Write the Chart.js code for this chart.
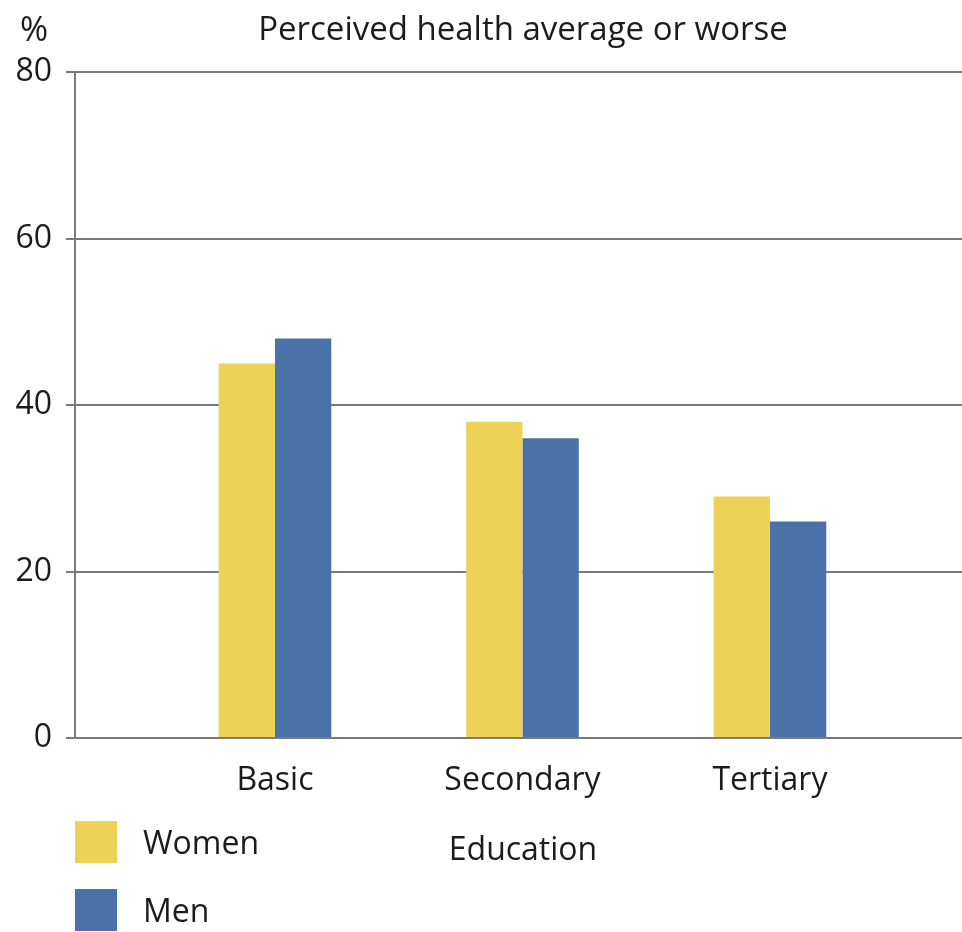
<!DOCTYPE html>
<html>
<head>
<meta charset="utf-8">
<script src="https://cdn.jsdelivr.net/npm/chart.js@4/dist/chart.umd.min.js"></script>
<style>
    html, body { margin: 0; padding: 0; background: #fff; }
    #wrap { position: relative; width: 962px; height: 932px; font-family: 'Open Sans', sans-serif; color: #1c1c1c; }
    #wrap canvas { position: absolute; left: 0; top: 0; }
    .lbl { position: absolute; font-size: 32px; line-height: 32px; white-space: nowrap; }
    .swatch { position: absolute; width: 42px; height: 42px; }
</style>
</head>
<body>
<div id="wrap">
    <canvas id="healthChart" width="962" height="932"></canvas>
    <div class="lbl" id="unit" style="left:20px; top:11px; font-size:34px; line-height:34px;">%</div>
    <div class="lbl" id="title" style="left:523px; top:11px; font-size:33px; line-height:33px; transform:translateX(-50%);">Perceived health average or worse</div>
    <div class="lbl" id="axisTitle" style="left:523px; top:832px; transform:translateX(-50%);">Education</div>
    <div id="legend"></div>
</div>
<script>
const categories = ['Basic', 'Secondary', 'Tertiary'];
const women = [45, 38, 29];
const men = [48, 36, 26];
const yTicks = [0, 20, 40, 60, 80];

const seriesNames = ['Women', 'Men'];
const seriesColors = ['#EDD257', '#4A72A8'];

function toPoints(values) {
    return values.map((v, i) => ({ x: i, y: v }));
}

const data = {
    datasets: [
        { label: seriesNames[0], data: toPoints(women), backgroundColor: seriesColors[0] },
        { label: seriesNames[1], data: toPoints(men), backgroundColor: seriesColors[1] },
    ]
};

const config = {
    type: 'bar',
    data: data,
    options: {
        responsive: false,
        animation: false,
        layout: { padding: { top: 72, right: 0, left: 0, bottom: 0 } },
        categoryPercentage: 0.455,
        barPercentage: 1,
        plugins: {
            legend: { display: false },
            tooltip: { enabled: false },
        },
        scales: {
            x: {
                type: 'linear',
                offset: false,
                min: -0.808,
                max: 2.776,
                afterBuildTicks: axis => { axis.ticks = categories.map((c, i) => ({ value: i })); },
                afterFit: axis => { axis.height = 932 - 738; },
                grid: { display: false, offset: false },
                border: { display: false },
                ticks: {
                    callback: value => categories[value],
                    font: { family: 'Open Sans', size: 32 },
                    color: '#1c1c1c',
                    padding: 16,
                    maxRotation: 0,
                    autoSkip: false,
                },
            },
            y: {
                min: 0,
                max: 80,
                afterBuildTicks: axis => { axis.ticks = yTicks.map(v => ({ value: v })); },
                afterFit: axis => { axis.width = 75; },
                grid: { color: '#7a7a7a', lineWidth: 2, tickLength: 9 },
                border: { display: true, color: '#7a7a7a', width: 2 },
                ticks: {
                    font: { family: 'Open Sans', size: 32 },
                    color: '#1c1c1c',
                    padding: 14,
                },
            },
        },
    },
};

const myChart = new Chart(document.getElementById('healthChart'), config);

// legend, stacked down the bottom left
const legend = document.getElementById('legend');
const legendTops = [821, 889];
seriesNames.forEach((name, i) => {
    const sw = document.createElement('div');
    sw.className = 'swatch';
    sw.style.left = '75px';
    sw.style.top = legendTops[i] + 'px';
    sw.style.background = seriesColors[i];
    legend.appendChild(sw);

    const txt = document.createElement('div');
    txt.className = 'lbl';
    txt.style.left = '143px';
    txt.style.top = (legendTops[i] + 5) + 'px';
    txt.textContent = name;
    legend.appendChild(txt);
});
</script>
</body>
</html>
